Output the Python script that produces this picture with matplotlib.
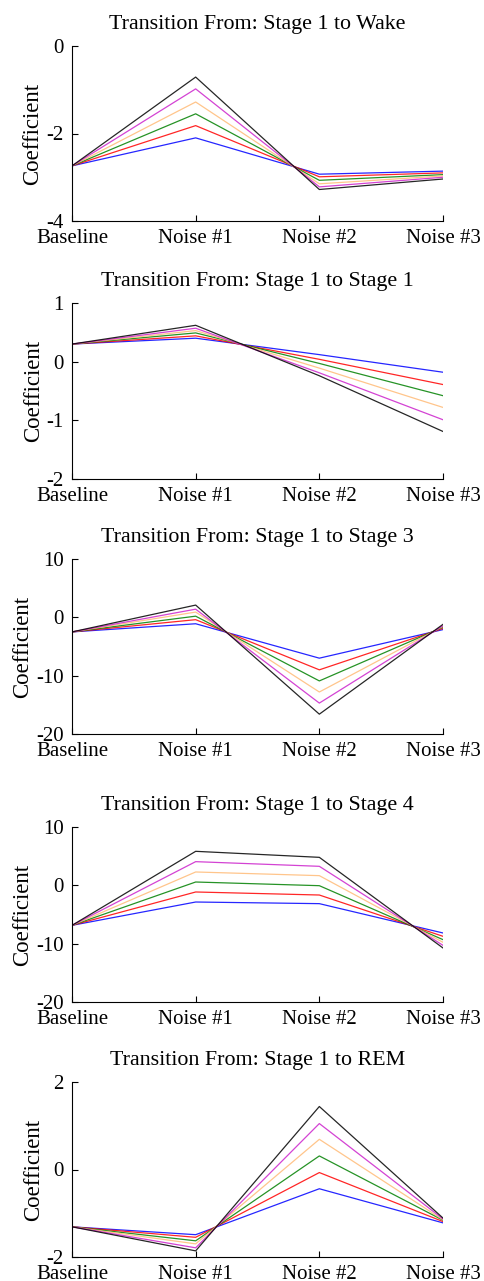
import numpy as np
import matplotlib
matplotlib.use("Agg")
import matplotlib.pyplot as plt

plt.rcParams['font.family'] = ['Liberation Serif', 'DejaVu Serif']

conds = ['Baseline', 'Noise #1', 'Noise #2', 'Noise #3']
colors = ['#0000ff', '#ff0000', '#008000', '#ffbb77', '#cc22cc', '#000000']

titles = ['Transition From: Stage 1 to Wake',
          'Transition From: Stage 1 to Stage 1',
          'Transition From: Stage 1 to Stage 3',
          'Transition From: Stage 1 to Stage 4',
          'Transition From: Stage 1 to REM']

# one row per line (blue, red, green, orange, magenta, black)
wake = [[-2.74, -2.10, -2.93, -2.86],
        [-2.74, -1.82, -2.99, -2.90],
        [-2.74, -1.55, -3.07, -2.94],
        [-2.74, -1.28, -3.15, -2.97],
        [-2.74, -0.98, -3.22, -3.00],
        [-2.74, -0.71, -3.28, -3.04]]
stage1 = [[0.30, 0.40, 0.12, -0.18],
          [0.30, 0.44, 0.04, -0.39],
          [0.30, 0.49, -0.03, -0.58],
          [0.30, 0.53, -0.11, -0.78],
          [0.30, 0.57, -0.19, -0.99],
          [0.30, 0.62, -0.24, -1.19]]
stage3 = [[-2.5, -1.1, -7.0, -2.1],
          [-2.5, -0.4, -9.0, -1.9],
          [-2.5, 0.2, -10.9, -1.7],
          [-2.5, 0.9, -12.8, -1.55],
          [-2.5, 1.4, -14.7, -1.45],
          [-2.5, 2.1, -16.6, -1.2]]
stage4 = [[-6.86, -2.86, -3.14, -8.17],
          [-6.86, -1.14, -1.66, -8.74],
          [-6.86, 0.57, -0.06, -9.31],
          [-6.86, 2.29, 1.66, -9.77],
          [-6.86, 4.06, 3.26, -10.29],
          [-6.86, 5.83, 4.80, -10.74]]
rem = [[-1.31, -1.49, -0.44, -1.22],
       [-1.31, -1.55, -0.07, -1.19],
       [-1.31, -1.63, 0.31, -1.16],
       [-1.31, -1.70, 0.69, -1.15],
       [-1.31, -1.79, 1.05, -1.13],
       [-1.31, -1.86, 1.44, -1.11]]

panels = [wake, stage1, stage3, stage4, rem]
ylims = [(-4, 0), (-2, 1), (-20, 10), (-20, 10), (-2, 2)]
yticks = [[-4, -2, 0], [-2, -1, 0, 1], [-20, -10, 0, 10], [-20, -10, 0, 10], [-2, 0, 2]]
# axes top/bottom in pixels
tops = [46, 303, 559, 827, 1082]
bots = [221, 479, 734, 1002, 1257]

W, H = 484, 1281
fig = plt.figure(figsize=(W / 100, H / 100), dpi=100)

for k in range(5):
    left = 72 / W
    width = (443 - 72) / W
    ax = fig.add_axes([left, 1 - bots[k] / H, width, (bots[k] - tops[k]) / H])
    x = np.arange(len(conds))
    for i in range(6):
        ax.plot(x, panels[k][i], color=colors[i], lw=0.9, alpha=0.85)
    ax.set_xlim(0, 3)
    ax.set_ylim(*ylims[k])
    ax.set_xticks(x)
    ax.set_xticklabels(conds, fontsize=15)
    ax.set_yticks(yticks[k])
    ax.set_yticklabels([str(t) for t in yticks[k]], fontsize=15)
    ax.tick_params(direction='in', length=4, width=0.8)
    ax.tick_params(axis='x', pad=6)
    ax.tick_params(axis='y', pad=6)
    ax.spines['top'].set_visible(False)
    ax.spines['right'].set_visible(False)
    ax.set_ylabel('Coefficient', fontsize=16.5, labelpad=2)
    ax.set_title(titles[k], fontsize=15.8, pad=12)

fig.savefig('out.png', dpi=100)
